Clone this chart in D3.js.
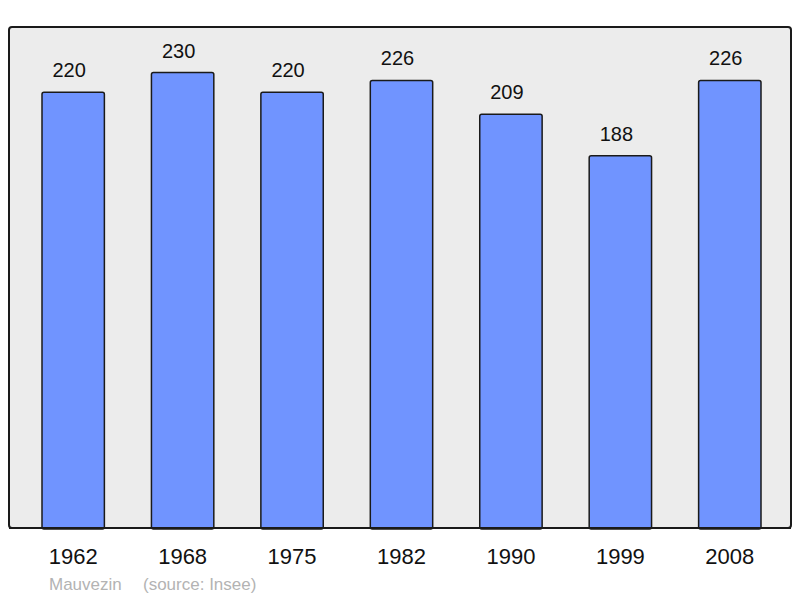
<!DOCTYPE html>
<html lang="fr">
<head>
  <meta charset="UTF-8" />
  <title>Mauvezin population</title>
  <style>
    body { margin: 0; background: #fff; font-family: "Liberation Sans", Arial, sans-serif; }
    svg { display: block; }
  </style>
</head>
<body>
  <svg id="chart"></svg>
  <script src="https://d3js.org/d3.v7.min.js"></script>
  <script>
    const years = ["1962", "1968", "1975", "1982", "1990", "1999", "2008"];
    const population = [220, 230, 220, 226, 209, 188, 226];
    const townName = "Mauvezin";
    const sourceNote = "(source: Insee)";

    const fullWidth = 800, fullHeight = 598;
    const frame = { left: 9, top: 27, right: 791, bottom: 528 };

    const svg = d3.select("#chart")
      .attr("width", fullWidth)
      .attr("height", fullHeight);

    // background frame
    svg.append("rect")
      .attr("x", frame.left)
      .attr("y", frame.top)
      .attr("width", frame.right - frame.left)
      .attr("height", frame.bottom - frame.top)
      .attr("rx", 3)
      .attr("fill", "#ececec")
      .attr("stroke", "#1a1a1a")
      .attr("stroke-width", 2);

    const x = d3.scaleBand()
      .domain(years)
      .range([42, 761])
      .paddingInner(0.43)
      .paddingOuter(0);

    const y = d3.scaleLinear()
      .domain([0, 253])
      .range([frame.bottom, frame.top]);

    const data = years.map((yr, i) => ({ year: yr, value: population[i] }));

    svg.append("g").selectAll("rect")
      .data(data)
      .join("rect")
      .attr("x", d => x(d.year))
      .attr("y", d => y(d.value))
      .attr("width", x.bandwidth())
      .attr("height", d => frame.bottom - y(d.value) + 1)
      .attr("rx", 2)
      .attr("fill", "#7094ff")
      .attr("stroke", "#1a1a1a")
      .attr("stroke-width", 1.5);

    // redraw frame bottom line over bars
    svg.append("line")
      .attr("x1", frame.left).attr("x2", frame.right)
      .attr("y1", frame.bottom).attr("y2", frame.bottom)
      .attr("stroke", "#1a1a1a")
      .attr("stroke-width", 2);

    // value labels sit a little left of the bar centre
    svg.append("g").selectAll("text")
      .data(data)
      .join("text")
      .attr("x", d => x(d.year) + x.bandwidth() / 2 - 4)
      .attr("y", d => y(d.value) - 15)
      .attr("text-anchor", "middle")
      .attr("font-size", 20)
      .attr("fill", "#111")
      .text(d => d.value);

    const axis = svg.append("g")
      .attr("transform", `translate(0,${frame.bottom})`)
      .call(d3.axisBottom(x).tickSize(0).tickPadding(0));
    axis.select(".domain").remove();
    axis.selectAll("text")
      .attr("dy", null)
      .attr("y", 36)
      .attr("font-size", 22)
      .attr("font-family", "Liberation Sans, Arial, sans-serif")
      .attr("fill", "#111");

    svg.append("text")
      .attr("x", 49)
      .attr("y", 590)
      .attr("font-size", 17)
      .attr("fill", "#b3b3b3")
      .text(townName);

    svg.append("text")
      .attr("x", 143)
      .attr("y", 590)
      .attr("font-size", 17)
      .attr("fill", "#b3b3b3")
      .text(sourceNote);
  </script>
</body>
</html>
